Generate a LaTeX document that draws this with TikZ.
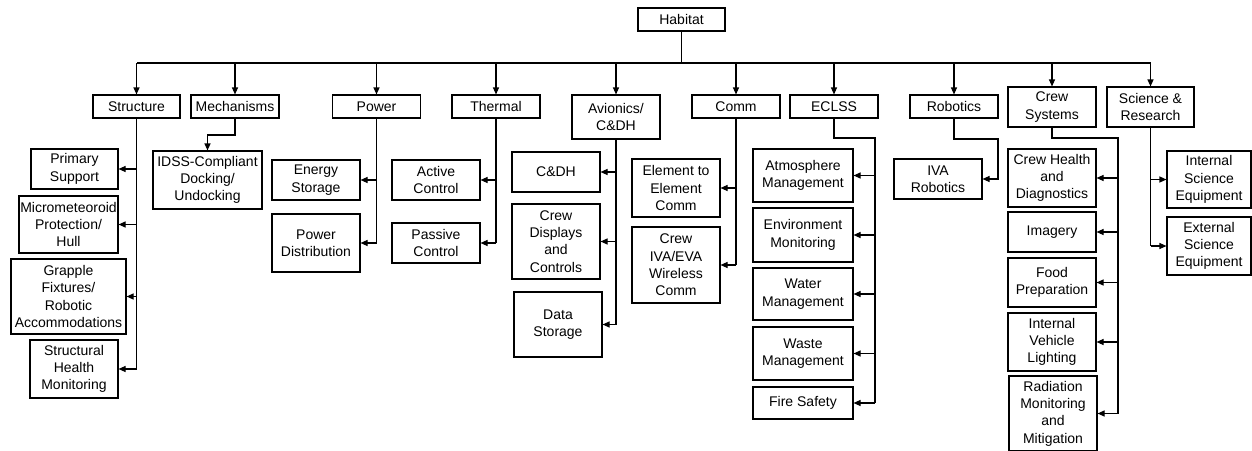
\documentclass[tikz,border=0pt]{standalone}
\usepackage{fontspec}
\setmainfont{Liberation Sans}
\usetikzlibrary{arrows.meta}
\begin{document}
\begin{tikzpicture}[x=1pt,y=-1pt,
  box/.style={draw, line width=1.1pt, inner sep=0pt, align=center, font=\fontsize{14}{17.3}\selectfont},
  sz/.style 2 args={minimum width=#1pt, minimum height=#2pt},
  ln/.style={line width=1.1pt},
  arr/.style={ln, -{Triangle[length=7pt,width=6pt]}}]
\clip (0,0) rectangle (1252,450);
% top
\node[box,sz={87}{23}] (hab) at (681.5,19.5) {Habitat};
% level 1
\node[box,sz={87}{23}] (struct) at (136.5,106.5) {Structure};
\node[box,sz={88}{23}] (mech) at (235,106.5) {Mechanisms};
\node[box,sz={88}{23}] (power) at (376.5,106.5) {Power};
\node[box,sz={88}{23}] (thermal) at (496,106.5) {Thermal};
\node[box,sz={88}{44}] (avion) at (616,117) {Avionics/\\C\&DH};
\node[box,sz={88}{23}] (comm) at (736,106.5) {Comm};
\node[box,sz={88}{23}] (eclss) at (834,106.5) {ECLSS};
\node[box,sz={88}{23}] (robot) at (954,106.5) {Robotics};
\node[box,sz={88}{40}] (crew) at (1052,107) {Crew\\Systems};
\node[box,sz={87}{40}] (sci) at (1150.5,107) {Science \&\\Research};
% structure
\node[box,sz={87}{40}] (ps) at (74.5,169) {Primary\\Support};
\node[box,sz={99}{57}] (mm) at (68.5,224.5) {Micrometeoroid\\Protection/\\Hull};
\node[box,sz={115}{75}] (gr) at (68.5,296.5) {Grapple\\Fixtures/\\Robotic\\Accommodations};
\node[box,sz={88}{58}] (shm) at (74,369) {Structural\\Health\\Monitoring};
% mechanisms
\node[box,sz={109}{58}] (idss) at (207.5,180) {IDSS-Compliant\\Docking/\\Undocking};
% power
\node[box,sz={88}{40}] (es) at (316,180) {Energy\\Storage};
\node[box,sz={88}{58}] (pd) at (316,243) {Power\\Distribution};
% thermal
\node[box,sz={88}{40}] (ac) at (436,180) {Active\\Control};
\node[box,sz={88}{40}] (pc) at (436,243) {Passive\\Control};
% avionics
\node[box,sz={88}{40}] (cdh) at (556,172) {C\&DH};
\node[box,sz={88}{75}] (cdc) at (556,241.5) {Crew\\Displays\\and\\Controls};
\node[box,sz={88}{65}] (ds) at (558,324.5) {Data\\Storage};
% comm
\node[box,sz={88}{58}] (e2e) at (676,188) {Element to\\Element\\Comm};
\node[box,sz={88}{76}] (civ) at (676,265) {Crew\\IVA/EVA\\Wireless\\Comm};
% eclss
\node[box,sz={100}{53}] (atm) at (803,175.5) {Atmosphere\\Management};
\node[box,sz={100}{54}] (env) at (803,235) {Environment\\Monitoring};
\node[box,sz={100}{52}] (wat) at (803,294) {Water\\Management};
\node[box,sz={100}{53}] (was) at (803,353.5) {Waste\\Management};
\node[box,sz={100}{32}] (fire) at (803,403) {Fire Safety};
% robotics
\node[box,sz={88}{40}] (iva) at (938,179) {IVA\\Robotics};
% crew systems
\node[box,sz={88}{58}] (ch) at (1052,178) {Crew Health\\and\\Diagnostics};
\node[box,sz={88}{40}] (img) at (1052,232) {Imagery};
\node[box,sz={88}{49}] (food) at (1052,282.5) {Food\\Preparation};
\node[box,sz={88}{58}] (ivl) at (1052,342) {Internal\\Vehicle\\Lighting};
\node[box,sz={88}{75}] (rad) at (1053,413.5) {Radiation\\Monitoring\\and\\Mitigation};
% science
\node[box,sz={84}{57}] (isci) at (1209,179.5) {Internal\\Science\\Equipment};
\node[box,sz={84}{58}] (esci) at (1209,246) {External\\Science\\Equipment};

% bus
\coordinate (busL) at (137,63);
\coordinate (busR) at (1151,63);
\draw[ln] (hab.south) -- (hab.south |- busL);
\draw[ln] (busL) -- (busR);
\foreach \n in {struct,mech,power,thermal,avion,comm,eclss,robot,crew,sci}
  \draw[arr] (\n.north |- busL) -- (\n.north);

% structure
\draw[ln] (struct.south) -- (struct.south |- shm.east);
\foreach \n in {ps,mm,gr,shm} \draw[arr] (struct.south |- \n.east) -- (\n.east);
% mechanisms
\coordinate (mk) at (235,135);
\draw[arr] (mech.south) -- (mk) -| (idss.north);
% power
\draw[ln] (power.south) -- (power.south |- pd.east);
\foreach \n in {es,pd} \draw[arr] (power.south |- \n.east) -- (\n.east);
% thermal
\draw[ln] (thermal.south) -- (thermal.south |- pc.east);
\foreach \n in {ac,pc} \draw[arr] (thermal.south |- \n.east) -- (\n.east);
% avionics
\draw[ln] (avion.south) -- (avion.south |- ds.east);
\foreach \n in {cdh,cdc,ds} \draw[arr] (avion.south |- \n.east) -- (\n.east);
% comm
\draw[ln] (comm.south) -- (comm.south |- civ.east);
\foreach \n in {e2e,civ} \draw[arr] (comm.south |- \n.east) -- (\n.east);
% eclss
\coordinate (ek) at (875,138);
\draw[ln, line width=1.6pt] (eclss.south) |- (ek) -- (ek |- fire.east);
\foreach \n in {atm,env,wat,was,fire} \draw[arr] (ek |- \n.east) -- (\n.east);
% robotics
\coordinate (rk) at (998,139);
\draw[arr] (robot.south) |- (rk) |- (iva.east);
% crew systems
\coordinate (ck) at (1118,138);
\draw[ln] (crew.south) |- (ck) -- (ck |- rad.east);
\foreach \n in {ch,img,food,ivl,rad} \draw[arr] (ck |- \n.east) -- (\n.east);
% science
\draw[ln] (sci.south) -- (sci.south |- esci.west);
\foreach \n in {isci,esci} \draw[arr] (sci.south |- \n.west) -- (\n.west);
\end{tikzpicture}
\end{document}
